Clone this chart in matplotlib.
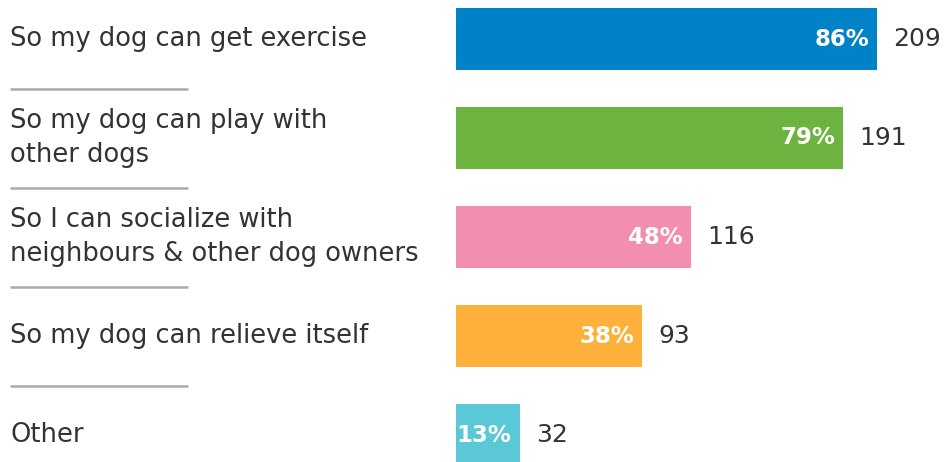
import matplotlib
matplotlib.use('Agg')
import matplotlib.pyplot as plt

plt.rcParams['font.family'] = ['DejaVu Sans']

razoes = ['So my dog can get exercise',
          'So my dog can play with\nother dogs',
          'So I can socialize with\nneighbours & other dog owners',
          'So my dog can relieve itself',
          'Other']
percentuais = [86, 79, 48, 38, 13]
contagens = [209, 191, 116, 93, 32]
cores = ['#0082c8', '#6db33f', '#f28fb1', '#fdb03a', '#5bc8d8']

W, H = 944, 462
fig = plt.figure(figsize=(W / 100, H / 100), dpi=100)

# ylim: centro da barra 0 em y=39px, passo de 99px
y_topo = -39 / 99
y_base = (H - 39) / 99

# eixo das barras (100% = 490px)
ax = fig.add_axes([456 / W, 0, 490 / W, 1])
ax.set_xlim(0, 100)
ax.set_ylim(y_base, y_topo)
ax.axis('off')

pos = list(range(len(razoes)))
ax.barh(pos, percentuais, height=62 / 99, color=cores)
for i, (p, c) in enumerate(zip(percentuais, contagens)):
    ax.annotate(f'{p}%', (p, i), xytext=(-8, 0), textcoords='offset pixels',
                ha='right', va='center', color='white', fontsize=16.5,
                fontweight='bold')
    ax.annotate(str(c), (p, i), xytext=(16, 0), textcoords='offset pixels',
                ha='left', va='center', color='#333333', fontsize=18)

# eixo dos rotulos a esquerda
ax2 = fig.add_axes([0, 0, 456 / W, 1])
ax2.set_xlim(0, 456)
ax2.set_ylim(y_base, y_topo)
ax2.axis('off')
for i, r in enumerate(razoes):
    ax2.text(10, i, r, ha='left', va='center', color='#333333',
             fontsize=18.5, linespacing=1.4)
ax2.hlines([i + 0.5 for i in pos[:-1]], 10, 188, color='#aaaaaa', linewidth=1.8)

fig.savefig('out.png', dpi=100)
